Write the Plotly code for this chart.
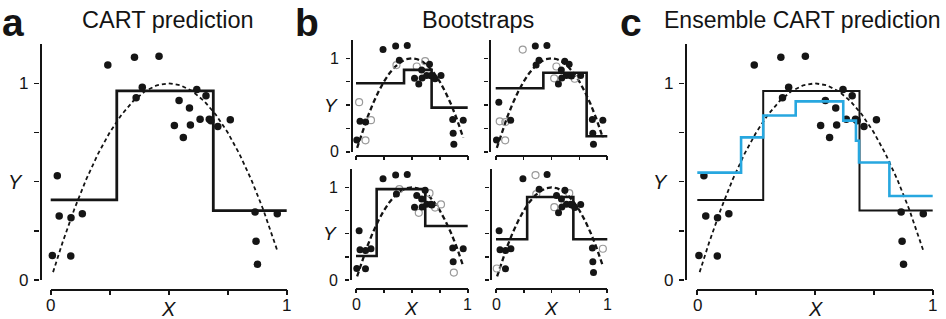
import plotly.graph_objects as go

W, H = 946, 319

# ---------------- data ----------------
point_x = [0.007, 0.028, 0.036, 0.085, 0.086, 0.134, 0.242, 0.355, 0.362, 0.388,
           0.459, 0.524, 0.544, 0.562, 0.588, 0.592, 0.619, 0.633, 0.658, 0.672,
           0.679, 0.708, 0.761, 0.866, 0.870, 0.876, 0.960]
point_y = [0.124, 0.530, 0.325, 0.122, 0.317, 0.337, 1.093, 1.132, 0.927, 0.980,
           1.137, 0.786, 0.912, 0.725, 0.875, 0.788, 0.969, 0.817, 0.937, 0.817,
           0.810, 0.781, 0.815, 0.346, 0.197, 0.080, 0.337]

curve_x = [0.01, 0.05, 0.10, 0.15, 0.20, 0.25, 0.30, 0.35, 0.40, 0.45, 0.50,
           0.55, 0.60, 0.65, 0.70, 0.75, 0.80, 0.85, 0.90, 0.96]
curve_y = [0.04, 0.19, 0.36, 0.51, 0.64, 0.75, 0.84, 0.91, 0.96, 0.99, 1.00,
           0.99, 0.96, 0.91, 0.84, 0.75, 0.64, 0.51, 0.36, 0.15]

cart_splits = [0.28, 0.689]
cart_levels = [0.407, 0.961, 0.353]

ensemble_splits = [0.186, 0.28, 0.418, 0.62, 0.674, 0.687, 0.816]
ensemble_levels = [0.546, 0.725, 0.836, 0.908, 0.81, 0.708, 0.597, 0.427]

boot1_splits = [0.43, 0.677]
boot1_levels = [0.733, 0.876, 0.472]
boot1_oob = [1, 3, 5, 8, 12, 16]

boot2_splits = [0.427, 0.815]
boot2_levels = [0.68, 0.846, 0.165]
boot2_oob = [2, 3, 4, 6, 11, 12, 21]

boot3_splits = [0.185, 0.62]
boot3_levels = [0.259, 0.98, 0.583]
boot3_oob = [9, 13, 18, 21, 22, 25]

boot4_splits = [0.28, 0.695]
boot4_levels = [0.439, 0.895, 0.439]
boot4_oob = [0, 7, 8, 11, 18, 26]

tick_vals = [0, 0.25, 0.5, 0.75, 1]
tick_text = ["0", "", "", "", "1"]
spine_top = 1.2

# ---------------- geometry (pixels) ----------------
panels = [
    dict(ax="", sx=40.0, x0=50.7, x1=286.7, y0=280.0, y1=83.3, xl=289.0, xlab=True, ylab=True, big=True),
    dict(ax="2", sx=350.7, x0=356.0, x1=467.7, y0=151.7, y1=58.3, xl=155.0, xlab=False, ylab=True, big=False),
    dict(ax="3", sx=489.3, x0=495.7, x1=607.3, y0=151.7, y1=58.3, xl=155.0, xlab=False, ylab=False, big=False),
    dict(ax="4", sx=350.3, x0=356.0, x1=467.7, y0=280.0, y1=187.3, xl=288.0, xlab=True, ylab=True, big=False),
    dict(ax="5", sx=490.0, x0=496.0, x1=607.3, y0=280.0, y1=187.3, xl=288.0, xlab=True, ylab=False, big=False),
    dict(ax="6", sx=685.0, x0=697.3, x1=932.7, y0=280.0, y1=83.3, xl=289.3, xlab=True, ylab=True, big=True),
]

FONT = "Liberation Sans, Arial, sans-serif"
INK = "#141414"
fig = go.Figure()
layout = dict(width=W, height=H, margin=dict(l=0, r=0, t=0, b=0, pad=0),
              paper_bgcolor="white", plot_bgcolor="rgba(0,0,0,0)", showlegend=False,
              font=dict(family=FONT, color=INK, size=16))
annotations = []


def step_xy(splits, levels):
    return [0] + list(splits) + [1], list(levels) + [levels[-1]]


for k, p in enumerate(panels):
    ppx = p["x1"] - p["x0"]           # pixels per x unit
    ppy = p["y0"] - p["y1"]           # pixels per y unit
    sx_val = -(p["x0"] - p["sx"]) / ppx
    sy_val = -(p["xl"] - p["y0"]) / ppy
    xr0, xr1 = sx_val, 1.04
    yr0, yr1 = sy_val, 1.24
    right = p["x0"] + xr1 * ppx
    top = p["y0"] - yr1 * ppy
    tl = 5 if p["big"] else 4
    common = dict(tickvals=tick_vals, showticklabels=False, ticks="outside", ticklen=tl,
                  tickwidth=1.6, tickcolor=INK, showgrid=False, zeroline=False,
                  showline=False, fixedrange=True)
    layout["xaxis" + p["ax"]] = dict(domain=[p["sx"] / W, right / W], range=[xr0, xr1],
                                     anchor="y" + p["ax"], **common)
    layout["yaxis" + p["ax"]] = dict(domain=[1 - p["xl"] / H, 1 - top / H], range=[yr0, yr1],
                                     anchor="x" + p["ax"], **common)

    # detached spines: an extra axis pair whose own axis lines span only 0..1 and 0..1.2
    sid = str(11 + k)
    ytop = p["y0"] - spine_top * ppy
    spine_common = dict(showline=True, linecolor=INK, linewidth=1.8, ticks="",
                        showticklabels=False, showgrid=False, zeroline=False,
                        fixedrange=True, anchor="free")
    layout["xaxis" + sid] = dict(domain=[p["x0"] / W, p["x1"] / W], range=[0, 1],
                                 position=1 - p["xl"] / H, **spine_common)
    layout["yaxis" + sid] = dict(domain=[1 - p["y0"] / H, 1 - ytop / H], range=[0, spine_top],
                                 position=p["sx"] / W, **spine_common)
    fig.add_trace(go.Scatter(x=[], y=[], mode="lines", xaxis="x" + sid, yaxis="y" + sid,
                             hoverinfo="skip"))

    fs = 17 if p["big"] else 16
    if p["xlab"]:
        for v, t in zip(tick_vals, tick_text):
            if t:
                annotations.append(dict(text=t, xref="x" + p["ax"], yref="paper", x=v,
                                        y=1 - (p["xl"] + 16) / H, showarrow=False,
                                        xanchor="center", yanchor="middle", font=dict(size=fs)))
        annotations.append(dict(text="<i>X</i>", xref="x" + p["ax"], yref="paper",
                                x=0.5, y=1 - (p["xl"] + 20) / H, showarrow=False,
                                xanchor="center", yanchor="middle",
                                font=dict(size=20 if p["big"] else 19)))
    if p["ylab"]:
        for v, t in zip(tick_vals, tick_text):
            if t:
                annotations.append(dict(text=t, xref="paper", yref="y" + p["ax"],
                                        x=(p["sx"] - 10) / W, y=v, showarrow=False,
                                        xanchor="right", yanchor="middle", font=dict(size=fs)))
        annotations.append(dict(text="<i>Y</i>", xref="paper", yref="y" + p["ax"],
                                x=(p["sx"] - (25 if p["big"] else 20)) / W, y=0.5,
                                showarrow=False, xanchor="center", yanchor="middle",
                                font=dict(size=20 if p["big"] else 19)))


# ---------------- traces ----------------
def add_curve(ax, width, dash):
    fig.add_trace(go.Scatter(x=curve_x, y=curve_y, mode="lines", xaxis="x" + ax, yaxis="y" + ax,
                             line=dict(color=INK, width=width, dash=dash), hoverinfo="skip"))


def add_step(ax, splits, levels, color, width):
    sx, sy = step_xy(splits, levels)
    fig.add_trace(go.Scatter(x=sx, y=sy, mode="lines", line_shape="hv",
                             xaxis="x" + ax, yaxis="y" + ax,
                             line=dict(color=color, width=width), hoverinfo="skip"))


def add_points(ax, idx, filled, size):
    xs = [point_x[i] for i in idx]
    ys = [point_y[i] for i in idx]
    if filled:
        m = dict(symbol="circle", size=size, color="#151515", line=dict(width=0))
    else:
        m = dict(symbol="circle-open", size=size, color="#9a9a9a", line=dict(width=1.2))
    fig.add_trace(go.Scatter(x=xs, y=ys, mode="markers", xaxis="x" + ax, yaxis="y" + ax,
                             marker=m, cliponaxis=False, hoverinfo="skip"))


all_idx = list(range(len(point_x)))

# panel a
add_curve("", 1.8, "4px,3px")
add_step("", cart_splits, cart_levels, "#151515", 2.8)
add_points("", all_idx, True, 7.5)

# panel b
for ax, spl, lev, oob in [("2", boot1_splits, boot1_levels, boot1_oob),
                          ("3", boot2_splits, boot2_levels, boot2_oob),
                          ("4", boot3_splits, boot3_levels, boot3_oob),
                          ("5", boot4_splits, boot4_levels, boot4_oob)]:
    add_curve(ax, 2.3, "5px,3px")
    inbag = [i for i in all_idx if i not in oob]
    add_points(ax, oob, False, 7)
    add_step(ax, spl, lev, "#151515", 2.6)
    add_points(ax, inbag, True, 7)

# panel c
add_curve("6", 1.8, "4px,3px")
add_step("6", cart_splits, cart_levels, "#151515", 2.0)
add_points("6", all_idx, True, 7.5)
add_step("6", ensemble_splits, ensemble_levels, "#27a7df", 2.6)

# ---------------- titles & panel letters ----------------
annotations.append(dict(text="CART prediction", xref="paper", yref="paper", x=167.7 / W,
                        y=1 - 20.3 / H, showarrow=False, xanchor="center", yanchor="middle",
                        font=dict(size=23.5)))
annotations.append(dict(text="Bootstraps", xref="paper", yref="paper", x=477.7 / W,
                        y=1 - 20.3 / H, showarrow=False, xanchor="center", yanchor="middle",
                        font=dict(size=23.5)))
annotations.append(dict(text="Ensemble CART prediction", xref="paper", yref="paper", x=943 / W,
                        y=1 - 20.3 / H, showarrow=False, xanchor="right", yanchor="middle",
                        font=dict(size=23)))
for txt, lx in [("a", 0.5), ("b", 293.5), ("c", 619.0)]:
    annotations.append(dict(text="<b>" + txt + "</b>", xref="paper", yref="paper",
                            x=lx / W, y=1 - 22.0 / H, showarrow=False,
                            xanchor="left", yanchor="middle", borderpad=0,
                            font=dict(size=39)))

layout["annotations"] = annotations
fig.update_layout(**layout)
fig.write_html("out.html", config={"displayModeBar": False, "staticPlot": True},
               post_script="document.body.style.margin='0';document.body.style.overflow='hidden';")
